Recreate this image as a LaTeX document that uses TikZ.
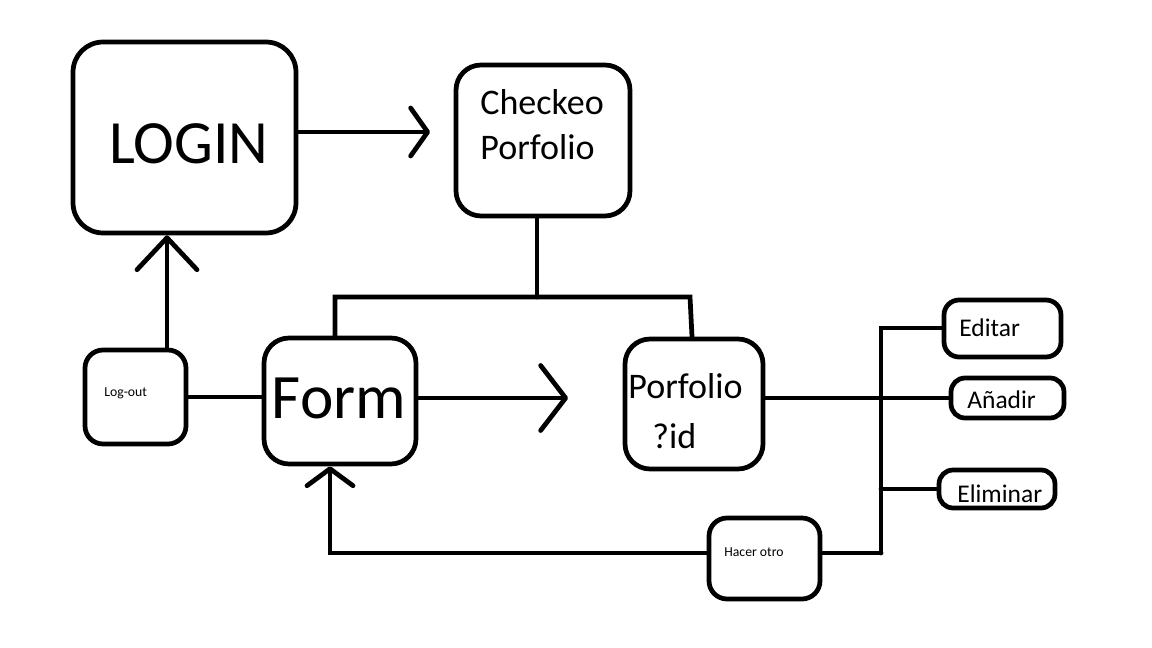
\documentclass[tikz,border=0pt]{standalone}
\usepackage{fontspec}
\setmainfont{Carlito}
\usetikzlibrary{arrows.meta}

\begin{document}
\begin{tikzpicture}[x=0.02cm, y=-0.02cm, line width=2.7pt, line cap=round,
  caja/.style={draw, rectangle, inner sep=0pt, rounded corners=#1},
  caja/.default=0.5cm,
  punta/.style 2 args={-{Straight Barb[length=#1, width=#2, round]}},
  grande/.style={font=\fontsize{35}{40}\selectfont, inner sep=0pt, anchor=base},
  medio/.style={font=\fontsize{20.5}{24}\selectfont, inner sep=0pt, anchor=base west},
  chico/.style={font=\fontsize{14.5}{17}\selectfont, inner sep=0pt, anchor=base west},
  mini/.style={font=\fontsize{7.8}{9}\selectfont, inner sep=0pt, anchor=base west}]
\useasboundingbox (0,0) rectangle (1152,648);

% cajas
\node[caja=0.6cm, minimum width=4.46cm, minimum height=3.82cm] (login) at (184.5,137.5) {};
\node[caja, minimum width=3.48cm, minimum height=3.02cm] (check) at (543,140.5) {};
\node[caja=0.36cm, minimum width=2.02cm, minimum height=1.88cm] (logout) at (135.5,397) {};
\node[caja, minimum width=3.04cm, minimum height=2.52cm] (form) at (340,401) {};
\node[caja, minimum width=2.76cm, minimum height=2.6cm] (port) at (694,404) {};
\node[caja=0.36cm, minimum width=2.22cm, minimum height=1.62cm] (hacer) at (764.5,558.5) {};
\node[caja=0.3cm, minimum width=2.34cm, minimum height=1.14cm] (editar) at (1002.5,328.5) {};
\node[caja=0.28cm, minimum width=2.26cm, minimum height=0.8cm] (anadir) at (1007.5,398) {};
\node[caja=0.28cm, minimum width=2.32cm, minimum height=0.76cm] (elim) at (997,489) {};

% textos
\node[grande] (login text) at (189,164) {LOGIN};
\node[medio] (check text1) at (478,115) {Checkeo};
\node[medio] (check text2) at (478,160) {Porfolio};
\node[mini] (logout text) at (102,396) {Log-out};
\node[grande, font=\fontsize{36}{40}\selectfont] (form text) at (339,418) {Form};
\node[medio] (port text1) at (626,398) {Porfolio};
\node[medio] (port text2) at (650,448) {?id};
\node[mini] (hacer text) at (722,556) {Hacer otro};
\node[chico] (editar text) at (957,337) {Editar};
\node[chico] (anadir text) at (965,408) {Añadir};
\node[chico] (elim text) at (955,502) {Eliminar};

% flechas
\coordinate (t1) at (430,132);
\draw[punta={0.34cm}{0.96cm}] (t1 -| login.east) -- (t1);
\coordinate (up) at (167,0);
\draw[punta={0.64cm}{1.2cm}] (logout.north -| up) -- (login.south -| up);
\draw (logout.east) -- (logout.east -| form.west);
\coordinate (t2) at (568,398);
\draw[punta={0.5cm}{1.3cm}] (t2 -| form.east) -- (t2);

% bus de arriba
\coordinate (cb) at (537,297);
\coordinate (bl) at (335,297);
\coordinate (br) at (690,297);
\draw (check.south -| cb) -- (cb);
\draw (form.north -| bl) -- (bl) -- (br) -- (port.north -| 692,0);

% bus de la derecha
\coordinate (bus top) at (881,328);
\coordinate (bus bot) at (881,553);
\draw (anadir.west -| port.east) -- (anadir.west);
\draw (bus top -| editar.west) -- (bus top) -- (bus bot);
\draw (elim.west -| bus top) -- (elim.west);
\draw (hacer.east |- bus bot) -- (bus bot);

% vuelta al form
\coordinate (lb) at (330,553);
\draw[punta={0.34cm}{0.92cm}] (hacer.west |- lb) -- (lb) -- (form.south -| lb);
\end{tikzpicture}
\end{document}
